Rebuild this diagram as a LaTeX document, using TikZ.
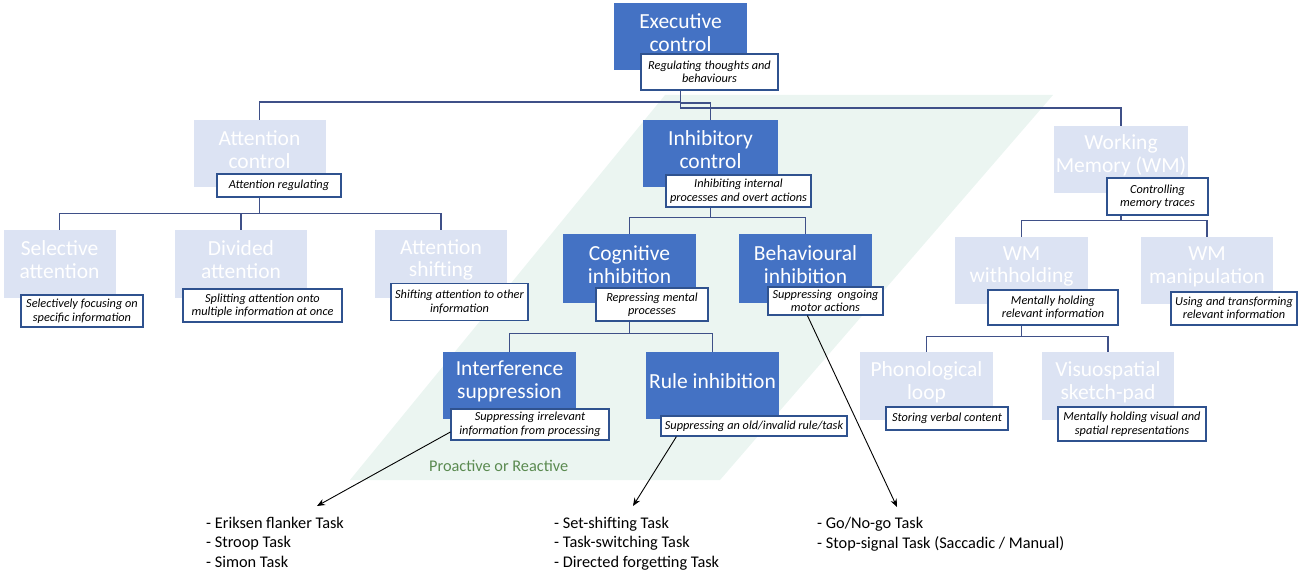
\documentclass[tikz,border=0pt]{standalone}
\usepackage{fontspec}
\setmainfont{Carlito}
\usetikzlibrary{arrows.meta,backgrounds}
\definecolor{dkblue}{HTML}{4472C4}
\definecolor{paleblue}{HTML}{DCE3F3}
\definecolor{dline}{HTML}{2F528F}
\definecolor{connc}{HTML}{3F5088}
\definecolor{mint}{HTML}{EBF5F1}
\definecolor{pgreen}{HTML}{5A8A50}
\begin{document}
\begin{tikzpicture}[x=1pt,y=-1pt,
  sz/.style 2 args={minimum width=#1pt,minimum height=#2pt},
  dark/.style={fill=dkblue,inner sep=0pt},
  pale/.style={fill=paleblue,inner sep=0pt},
  ttl/.style={font=\fontsize{21.5}{22.8}\selectfont,align=center,text=white,yshift=4pt,inner sep=0pt},
  desc/.style={draw=dline,line width=1.2pt,fill=white,font=\itshape\fontsize{12.3}{13.5}\selectfont,align=center,inner sep=0.5pt},
  conn/.style={draw=connc,line width=1.4pt},
  arr/.style={draw=black,line width=0.9pt,-{Stealth[length=8pt,width=6.5pt]}},
  lst/.style={font=\fontsize{16.3}{19.5}\selectfont,align=left,inner sep=0pt}]
\useasboundingbox (0,0) rectangle (1300,572);

% top
\node[dark,sz={133}{67},label={[ttl]center:{Executive\\control}}] (exec) at (680.5,36.5) {};
\node[desc,sz={137}{36}] (execD) at (709.5,72) {Regulating thoughts and\\behaviours};

% attention branch
\node[pale,sz={132}{67},label={[ttl]center:{Attention\\control}}] (att) at (259.5,153.5) {};
\node[desc,sz={124}{23}] (attD) at (279,185.5) {Attention regulating};
\node[pale,sz={112}{68},label={[ttl]center:{Selective\\attention}}] (sel) at (59.5,264) {};
\node[desc,sz={122}{32}] (selD) at (82,311) {Selectively focusing on\\specific information};
\node[pale,sz={132}{68},label={[ttl]center:{Divided\\attention}}] (div) at (241,264) {};
\node[desc,sz={159}{33}] (divD) at (262.5,305.5) {Splitting attention onto\\multiple information at once};
\node[pale,sz={132}{68},label={[ttl]center:{Attention\\shifting}}] (shi) at (441,264) {};
\node[desc,sz={137}{37}] (shiD) at (459.5,302) {Shifting attention to other\\information};

% inhibitory branch
\node[dark,sz={135}{67},label={[ttl]center:{Inhibitory\\control}}] (inh) at (710.5,153.5) {};
\node[desc,sz={145}{32}] (inhD) at (738.5,191) {Inhibiting internal\\processes and overt actions};
\node[dark,sz={133}{69},label={[ttl]center:{Cognitive\\inhibition}}] (cog) at (629.5,268.5) {};
\node[desc,sz={112}{33}] (cogD) at (652,304.5) {Repressing mental\\processes};
\node[dark,sz={133}{69},label={[ttl]center:{Behavioural\\inhibition}}] (beh) at (805.5,268.5) {};
\node[desc,sz={115}{28}] (behD) at (825.5,301) {Suppressing~ ongoing\\motor actions};
\node[dark,sz={133}{67},label={[ttl]center:{Interference\\suppression}}] (int) at (509.5,385.5) {};
\node[desc,sz={158}{31}] (intD) at (530,424.5) {Suppressing irrelevant\\information from processing};
\node[dark,sz={133}{67},label={[ttl]center:{Rule inhibition}}] (rule) at (712.5,385.5) {};
\node[desc,sz={186}{20}] (ruleD) at (754,426) {Suppressing an old/invalid rule/task};

% working memory branch
\node[pale,sz={134}{67},label={[ttl]center:{Working\\Memory (WM)}}] (wm) at (1121,159.5) {};
\node[desc,sz={101}{37}] (wmD) at (1157.5,196.5) {Controlling\\memory traces};
\node[pale,sz={133}{67},label={[ttl]center:{WM\\withholding}}] (wmh) at (1021.5,270.5) {};
\node[desc,sz={130}{35}] (wmhD) at (1053,307.5) {Mentally holding\\relevant information};
\node[pale,sz={132}{67},label={[ttl]center:{WM\\manipulation}}] (wmm) at (1207,270.5) {};
\node[desc,sz={126}{33}] (wmmD) at (1234,308.5) {Using and transforming\\relevant information};
\node[pale,sz={133}{68},label={[ttl]center:{Phonological\\loop}}] (pho) at (926.5,386) {};
\node[desc,sz={122}{23}] (phoD) at (947,418.5) {Storing verbal content};
\node[pale,sz={132}{68},label={[ttl]center:{Visuospatial\\sketch-pad}}] (vis) at (1108,386) {};
\node[desc,sz={148}{34}] (visD) at (1132,424) {Mentally holding visual and\\spatial representations};

% label
\node[font=\fontsize{16.3}{19.5}\selectfont,text=pgreen,anchor=base west,inner sep=0pt] (pr) at (429,471.5) {Proactive or Reactive};

% task lists (base anchor = last line baseline)
\node[lst,anchor=base west] (l1) at (206,567) {- Eriksen flanker Task\\- Stroop Task\\- Simon Task};
\node[lst,anchor=base west] (l2) at (554,567) {- Set-shifting Task\\- Task-switching Task\\- Directed forgetting Task};
\node[lst,anchor=base west] (l3) at (817,548) {- Go/No-go Task\\- Stop-signal Task (Saccadic / Manual)};
\coordinate (t1) at (317,506);
\coordinate (t2) at (633,506);
\coordinate (t3) at (897,507);

\draw[arr] (intD.west) ++(0,7.5) -- (t1);
\draw[arr] ([xshift=16pt]ruleD.south west) -- (t2);
\draw[arr] ([xshift=40pt]behD.south west) -- (t3);

\begin{pgfonlayer}{background}
\fill[mint] (665,95) -- (1053,95) -- (720,480) -- (350,480) -- cycle;
\draw[conn] (exec.south) -- ++(0,32) -| (att.north);
\draw[conn] (exec.south) -- ++(0,38) -| (wm.north);
\draw[conn] (exec.south) -- ++(0,33) -| (inh.north);
\draw[conn] (att.south) -- ++(0,26) -| (sel.north);
\draw[conn] (att.south) -- ++(0,26) -| (div.north);
\draw[conn] (att.south) -- ++(0,26) -| (shi.north);
\draw[conn] (inh.south) -- ++(0,30) -| (cog.north);
\draw[conn] (inh.south) -- ++(0,30) -| (beh.north);
\draw[conn] (cog.south) -- ++(0,30) -| (int.north);
\draw[conn] (cog.south) -- ++(0,30) -| (rule.north);
\draw[conn] (wm.south) -- ++(0,27) -| (wmh.north);
\draw[conn] (wm.south) -- ++(0,27) -| (wmm.north);
\draw[conn] (wmh.south) -- ++(0,32) -| (pho.north);
\draw[conn] (wmh.south) -- ++(0,32) -| (vis.north);
\end{pgfonlayer}
\end{tikzpicture}
\end{document}
